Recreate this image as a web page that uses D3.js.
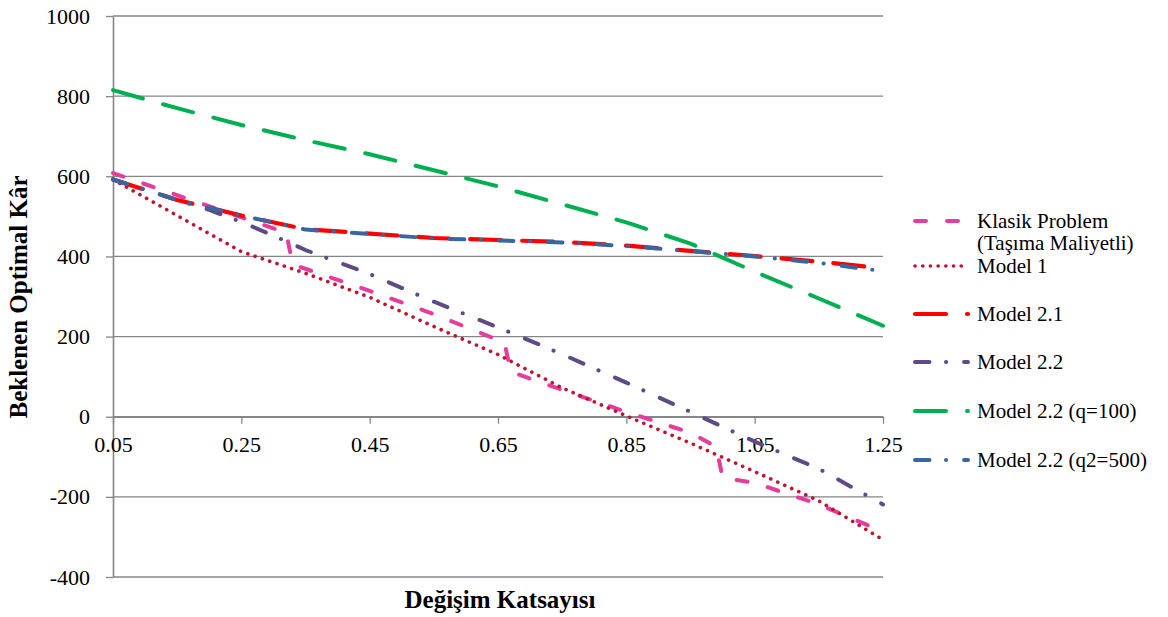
<!DOCTYPE html>
<html>
<head>
<meta charset="utf-8">
<script src="https://cdn.jsdelivr.net/npm/d3@7"></script>
<style>
  body { margin: 0; background: #fff; }
  svg text { font-family: "Liberation Serif", "Times New Roman", serif; }
</style>
</head>
<body>
<svg class="profit-chart" width="1168" height="617"></svg>
<script>
// values (x = Değişim Katsayısı, y = Beklenen Optimal Kâr)
let klasikX = [0.05, 0.32, 0.33, 0.45, 0.55, 0.66, 0.67, 0.75, 0.85, 0.95, 0.99, 1.00, 1.05, 1.15, 1.25];
let klasikY = [608, 459, 380, 314, 256, 185, 112, 67, 12, -40, -75, -152, -165, -219, -287];

let model1X = [0.05, 0.25, 0.35, 0.45, 0.55, 0.65, 0.75, 0.85, 0.95, 1.05, 1.15, 1.25];
let model1Y = [592, 412, 358, 298, 225, 155, 72, 2, -66, -137, -210, -307];

let gridX = [0.05, 0.15, 0.25, 0.35, 0.45, 0.55, 0.65, 0.75, 0.85, 0.95, 1.05, 1.15, 1.25];
let model21Y = [592, 541, 502, 468, 457, 446, 441, 436, 427, 414, 401, 387, 370];
let q100Y = [815, 770, 728, 690, 655, 615, 575, 530, 485, 432, 362, 295, 227];
let q2500Y = [592, 541, 502, 467, 456, 445, 440, 435, 426, 413, 400, 384, 363];

let model22X = [0.05, 0.15, 0.20, 0.25, 0.30, 0.35, 0.45, 0.55, 0.65, 0.75, 0.85, 0.95, 1.05, 1.15, 1.25];
let model22Y = [592, 541, 516, 486, 452, 416, 356, 287, 223, 156, 85, 12, -62, -130, -219];

let xTicks = [0.05, 0.25, 0.45, 0.65, 0.85, 1.05, 1.25];
let yTicks = [-400, -200, 0, 200, 400, 600, 800, 1000];

let seriesNames = ['Klasik Problem|(Taşıma Maliyetli)', 'Model 1', 'Model 2.1', 'Model 2.2', 'Model 2.2 (q=100)', 'Model 2.2 (q2=500)'];
let seriesColors = ['#e63c9b', '#c3122f', '#ff0000', '#5f4a86', '#00b050', '#3a66a0'];

let x = d3.scaleLinear().domain([0.05, 1.25]).range([113, 883]);
let y = d3.scaleLinear().domain([-400, 1000]).range([577, 16]);

let svg = d3.select('.profit-chart');
let gray = '#868686';
let serif = '"Liberation Serif", "Times New Roman", serif';

// horizontal gridlines
svg.append('g').selectAll('line')
  .data(yTicks)
  .enter().append('line')
  .attr('x1', x(0.05)).attr('x2', x(1.25))
  .attr('y1', function(d) { return y(d); }).attr('y2', function(d) { return y(d); })
  .attr('stroke', gray).attr('stroke-width', 1.3);

// y axis (plain hyphen for negatives, like the original)
let yAxis = svg.append('g')
  .attr('transform', 'translate(' + x(0.05) + ',0)')
  .call(d3.axisLeft(y).tickValues(yTicks).tickFormat(function(d) { return String(d); })
    .tickSize(7).tickSizeOuter(0).tickPadding(16));
yAxis.select('.domain').attr('stroke', gray).attr('stroke-width', 1.6);
yAxis.selectAll('.tick line').attr('stroke', gray).attr('stroke-width', 1.3);
yAxis.selectAll('text').style('font-family', serif).style('font-size', '22px').attr('fill', '#000');

// x axis crossing at 0
let xAxis = svg.append('g')
  .attr('transform', 'translate(0,' + y(0) + ')')
  .call(d3.axisBottom(x).tickValues(xTicks).tickFormat(function(d) { return d.toFixed(2); })
    .tickSize(7).tickSizeOuter(0).tickPadding(13));
xAxis.select('.domain').attr('stroke', gray).attr('stroke-width', 1.6);
xAxis.selectAll('.tick line').attr('stroke', gray).attr('stroke-width', 1.3);
xAxis.selectAll('text').style('font-family', serif).style('font-size', '22px').attr('fill', '#000');

// axis titles
svg.append('text')
  .attr('x', 500).attr('y', 608)
  .attr('text-anchor', 'middle').attr('font-size', 25).attr('font-weight', 'bold')
  .text('Değişim Katsayısı');

svg.append('text')
  .attr('transform', 'translate(27,297) rotate(-90)')
  .attr('text-anchor', 'middle').attr('font-size', 25).attr('font-weight', 'bold')
  .text('Beklenen Optimal Kâr');

// line styles: dash, round dot, long dash, dash-dot
let dashes = ['11,21', '0.1,7.6', '31,21', '14.5,16.5,0.1,18', '31,21', '14.5,16.5,0.1,18'];
let widths = [4, 3.6, 4.2, 4, 4, 4];

let series = [
  { xs: klasikX, ys: klasikY },
  { xs: model1X, ys: model1Y },
  { xs: gridX, ys: model21Y },
  { xs: model22X, ys: model22Y },
  { xs: gridX, ys: q100Y },
  { xs: gridX, ys: q2500Y }
];

let line = d3.line()
  .x(function(d) { return x(d[0]); })
  .y(function(d) { return y(d[1]); });

svg.append('g').selectAll('path')
  .data(series)
  .enter().append('path')
  .attr('d', function(s) { return line(d3.zip(s.xs, s.ys)); })
  .attr('fill', 'none')
  .attr('stroke', function(s, i) { return seriesColors[i]; })
  .attr('stroke-width', function(s, i) { return widths[i]; })
  .attr('stroke-dasharray', function(s, i) { return dashes[i]; })
  .attr('stroke-linecap', 'round')
  .attr('stroke-linejoin', 'round');

// legend
let legendY = [221, 266, 314, 362, 411, 460];
let legend = svg.append('g').selectAll('g')
  .data(seriesNames)
  .enter().append('g')
  .attr('transform', function(d, i) { return 'translate(0,' + legendY[i] + ')'; });

legend.append('line')
  .attr('x1', 915).attr('x2', 968).attr('y1', 0).attr('y2', 0)
  .attr('stroke', function(d, i) { return seriesColors[i]; })
  .attr('stroke-width', function(d, i) { return widths[i]; })
  .attr('stroke-dasharray', function(d, i) { return dashes[i]; })
  .attr('stroke-linecap', 'round');

legend.append('text')
  .attr('x', 977).attr('font-size', 21)
  .selectAll('tspan')
  .data(function(d) { return d.split('|'); })
  .enter().append('tspan')
  .attr('x', 977)
  .attr('y', function(d, i) { return i * 22; })
  .attr('dy', '0.35em')
  .text(function(d) { return d; });
</script>
</body>
</html>
